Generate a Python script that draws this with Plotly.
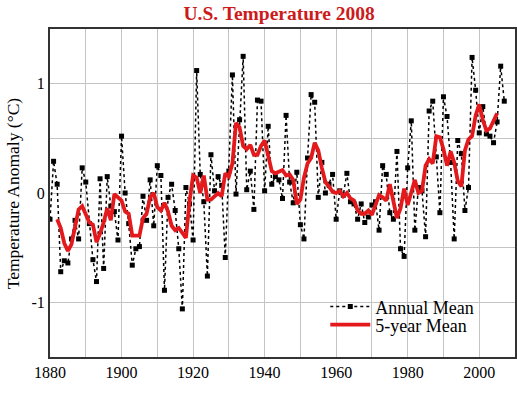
import plotly.graph_objects as go

years = list(range(1880, 2008))
annual_mean = [
    -0.24, 0.29, 0.08, -0.72, -0.62, -0.64, -0.42, -0.25, -0.42, 0.23,
    0.10, -0.28, -0.61, -0.81, 0.13, -0.69, 0.15, -0.12, -0.17, -0.43,
    0.52, 0.00, -0.28, -0.66, -0.51, -0.49, -0.03, -0.25, 0.12, -0.30,
    0.25, 0.16, -0.89, -0.04, 0.08, -0.16, -0.51, -1.06, 0.05, -0.10,
    -0.43, 1.12, 0.17, -0.08, -0.76, 0.35, 0.02, 0.15, 0.07, -0.59,
    0.20, 1.08, -0.01, 0.67, 1.25, 0.03, 0.20, -0.15, 0.85, 0.84,
    0.02, 0.61, 0.08, 0.15, 0.12, -0.05, 0.71, 0.10, -0.09, 0.19,
    -0.29, -0.42, 0.32, 0.90, 0.83, -0.04, 0.28, 0.00, 0.08, 0.17,
    -0.24, 0.02, -0.02, 0.18, -0.08, -0.10, -0.24, -0.10, -0.27, -0.22,
    -0.11, -0.08, -0.34, 0.25, 0.17, -0.18, -0.24, 0.38, -0.51, -0.58,
    0.23, 0.66, -0.34, 0.05, 0.02, -0.40, 0.75, 0.84, 0.33, -0.18,
    0.88, 0.70, 0.28, -0.42, 0.48, 0.36, -0.16, 0.05, 1.24, 0.94,
    0.55, 0.79, 0.54, 0.52, 0.46, 0.65, 1.16, 0.84,
]

mean_years = list(range(1882, 2006))
five_year_mean = [
    -0.24, -0.32, -0.46, -0.53, -0.47, -0.30, -0.15, -0.12,
    -0.20, -0.27, -0.29, -0.45, -0.37, -0.27, -0.14, -0.25, -0.01, -0.04,
    -0.07, -0.17, -0.19, -0.39, -0.39, -0.39, -0.23, -0.19, -0.04, 0.00,
    -0.13, -0.16, -0.09, -0.17, -0.30, -0.34, -0.32, -0.36, -0.41, -0.08,
    0.16, 0.14, 0.00, 0.16, -0.06, -0.06, -0.03, 0.00, -0.03, 0.18,
    0.15, 0.27, 0.64, 0.60, 0.43, 0.40, 0.44, 0.35, 0.35, 0.43,
    0.48, 0.34, 0.20, 0.18, 0.20, 0.21, 0.16, 0.17, 0.12, -0.10,
    -0.06, 0.14, 0.27, 0.32, 0.46, 0.39, 0.23, 0.10, 0.06, 0.01,
    0.00, 0.02, -0.03, 0.00, -0.05, -0.07, -0.16, -0.19, -0.19, -0.16,
    -0.20, -0.10, -0.02, -0.04, -0.07, 0.08, -0.08, -0.23, -0.14, 0.04,
    -0.11, 0.00, 0.12, 0.00, 0.02, 0.25, 0.31, 0.27, 0.52, 0.51,
    0.40, 0.25, 0.38, 0.28, 0.11, 0.06, 0.39, 0.49, 0.52, 0.71,
    0.81, 0.67, 0.57, 0.59, 0.67, 0.73,
]

x_ticks = list(range(1880, 2011, 10))
x_labels = [str(y) if (y - 1880) % 20 == 0 and y <= 2000 else "" for y in x_ticks]
y_ticks = [-1.5, -1, -0.5, 0, 0.5, 1, 1.5]
y_labels = ["", "-1", "", "0", "", "1", ""]

serif = "Liberation Serif, Times New Roman, serif"

fig = go.Figure()
fig.add_trace(go.Scatter(
    x=years, y=annual_mean, mode="lines+markers", name="Annual Mean",
    line=dict(color="black", width=1.5, dash="dot"),
    marker=dict(symbol="square", size=5, color="black"),
    legend="legend",
))
fig.add_trace(go.Scatter(
    x=mean_years, y=five_year_mean, mode="lines", name="5-year Mean",
    line=dict(color="#e3191c", width=3.8),
    legend="legend2",
))

legend_common = dict(xanchor="left", yanchor="middle", bgcolor="rgba(0,0,0,0)",
                     borderwidth=0, font=dict(family=serif, size=18, color="black"),
                     itemwidth=40)

fig.update_layout(
    width=517, height=397,
    margin=dict(l=50, r=2, t=29, b=40, autoexpand=False),
    paper_bgcolor="white", plot_bgcolor="white",
    title=dict(text="<b>U.S. Temperature 2008</b>", x=0.54, xanchor="center",
               y=0.967, yanchor="middle",
               font=dict(family=serif, size=19.5, color="#cc1b1b")),
    font=dict(family=serif, size=16, color="black"),
    showlegend=True,
    legend=dict(x=0.592, y=0.153, **legend_common),
    legend2=dict(x=0.592, y=0.098, **legend_common),
    shapes=[dict(
        type="rect", xref="paper", yref="paper", x0=0.596, x1=0.925, y0=0.035, y1=0.183,
        fillcolor="white", line=dict(width=0), layer="between",
    )],
    annotations=[dict(
        text="Temperature Anomaly (°C)", xref="paper", yref="paper",
        x=-0.079, y=0.5, xanchor="center", yanchor="middle", textangle=-90,
        showarrow=False, font=dict(family=serif, size=17.5, color="black"),
    )],
)
fig.update_xaxes(
    range=[1880, 2010], tickvals=x_ticks, ticktext=x_labels,
    showgrid=True, gridcolor="#c4c4c4", gridwidth=1,
    showline=True, linecolor="#333333", linewidth=2, mirror=True,
    ticks="", zeroline=False, tickfont=dict(family=serif, size=16),
    automargin=False,
)
fig.update_yaxes(
    range=[-1.5, 1.5], tickvals=y_ticks, ticktext=y_labels,
    showgrid=True, gridcolor="#c4c4c4", gridwidth=1,
    showline=True, linecolor="#333333", linewidth=2, mirror=True,
    ticks="", zeroline=False, tickfont=dict(family=serif, size=16),
    automargin=False,
)

fig.write_html(
    "out.html",
    config={"displayModeBar": False},
    post_script="document.body.style.margin='0';document.body.style.overflow='hidden';",
)
